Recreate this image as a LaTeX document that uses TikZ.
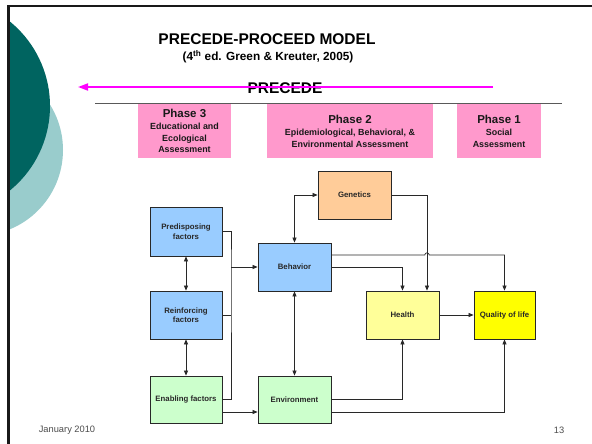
\documentclass[tikz,border=0pt]{standalone}
\usepackage{fontspec}
\setmainfont{Liberation Sans}
\usetikzlibrary{arrows.meta,calc}
\definecolor{tealdark}{RGB}{0,100,96}
\definecolor{teallight}{RGB}{153,204,204}
\definecolor{phasepink}{RGB}{255,153,204}
\definecolor{boxblue}{RGB}{153,204,255}
\definecolor{boxgreen}{RGB}{204,255,204}
\definecolor{boxpeach}{RGB}{255,204,153}
\definecolor{boxlemon}{RGB}{255,255,153}
\definecolor{boxyellow}{RGB}{255,255,0}
\definecolor{inkgray}{RGB}{40,40,40}
\definecolor{brightmagenta}{RGB}{255,0,255}
\tikzset{
  flowbox/.style={draw=inkgray, line width=0.8pt, align=center, inner sep=1pt,
    font=\bfseries\fontsize{7.8}{9.5}\selectfont, text=inkgray},
  phasebox/.style={fill=phasepink, align=center, inner sep=0pt, text=black!90,
    font=\bfseries\fontsize{8.9}{11.5}\selectfont},
  link/.style={draw=inkgray, line width=0.7pt},
  arr/.style={link, -{Triangle[length=5pt,width=4pt]}},
  darr/.style={link, {Triangle[length=5pt,width=4pt]}-{Triangle[length=5pt,width=4pt]}},
}
\begin{document}
\begin{tikzpicture}[x=1pt,y=-1pt]
\useasboundingbox (0,0) rectangle (592,444);
\fill[white] (0,0) rectangle (592,444);

% decorative discs on the left edge
\begin{scope}
  \clip (8,0) rectangle (592,444);
  \fill[teallight] (-22.7,150) circle (85.7);
  \fill[tealdark] (-59,106) circle (109);
\end{scope}
% slide frame
\draw[black!90, line width=2.6pt] (8.5,444) -- (8.5,6.2) -- (592,6.2);

% headings
\node (title) at (267,39) {\bfseries\fontsize{15.5}{18}\selectfont PRECEDE-PROCEED MODEL};
\node (subtitle) at (268,57) {\bfseries\fontsize{11.8}{13}\selectfont (4\textsuperscript{th} ed. Green \& Kreuter, 2005)};
\node (precede) at (285,88) {\bfseries\fontsize{15.5}{18}\selectfont PRECEDE};
\coordinate (magstart) at (493,87);
\coordinate (magend) at (78,87);
\draw[brightmagenta, line width=1.8pt, -{Triangle[length=10pt,width=7pt]}] (magstart) -- (magend);
\coordinate (rulel) at (95,103);
\coordinate (ruler) at (562,103);
\draw[black!65, line width=1pt] (rulel) -- (ruler);

% phases
\node[phasebox, minimum width=93pt, minimum height=54pt] (ph3) at (184.5,131)
  {{\fontsize{11.5}{12}\selectfont Phase 3}\\[1pt]Educational and\\Ecological\\Assessment};
\node[phasebox, minimum width=166pt, minimum height=54pt] (ph2) at (350,131)
  {{\fontsize{11.5}{12}\selectfont Phase 2}\\[1pt]Epidemiological, Behavioral, \&\\Environmental Assessment};
\node[phasebox, minimum width=84pt, minimum height=54pt] (ph1) at (499,131)
  {{\fontsize{11.5}{12}\selectfont Phase 1}\\[1pt]Social\\Assessment};

% model boxes
\node[flowbox, fill=boxpeach, minimum width=73pt, minimum height=48pt] (gen) at (354.5,195) {Genetics};
\node[flowbox, fill=boxblue, minimum width=72pt, minimum height=49pt] (pre) at (186,231.5) {Predisposing\\factors};
\node[flowbox, fill=boxblue, minimum width=73pt, minimum height=48pt] (beh) at (294.5,267) {Behavior};
\node[flowbox, fill=boxblue, minimum width=72pt, minimum height=48pt] (rei) at (186,315) {Reinforcing\\factors};
\node[flowbox, fill=boxlemon, minimum width=73pt, minimum height=48pt] (hea) at (402.5,315) {Health};
\node[flowbox, fill=boxyellow, minimum width=61pt, minimum height=48pt] (qol) at (504.5,315) {Quality of life};
\node[flowbox, fill=boxgreen, minimum width=72pt, minimum height=47pt] (ena) at (186,399.5) {Enabling factors};
\node[flowbox, fill=boxgreen, minimum width=73pt, minimum height=47pt] (env) at (294.5,399.5) {Environment};

% factor bus into behavior
\coordinate (bus) at (231,267);
\draw[link] (pre.east) -| (bus) |- (ena.east);
\draw[link] (rei.east) -- (rei.east -| bus);
\draw[arr] (bus) -- (beh.west);

% vertical links between factors
\draw[darr] (pre.south) -- (rei.north);
\draw[darr] (rei.south) -- (ena.north);
\draw[darr] (beh.south) -- (env.north);
\draw[darr] (beh.north) |- (gen.west);

% genetics to health
\coordinate (genline) at ($(hea.north)+(24.5,0)$);
\draw[arr] (gen.east) -| (genline);

% behavior to quality of life, hopping over the genetics line
\coordinate (bq) at ($(beh.east)+(0,-12)$);
\draw[arr] (bq) -- ($(bq -| genline)+(-2.2,0)$) arc[start angle=180, end angle=360, radius=2.2] -| (qol.north);
\draw[arr] (beh.east) -| (hea.north);
\draw[arr] (hea.east) -- (qol.west);

% environment links
\draw[arr] (env.east) -| (hea.south);
\coordinate (eq) at ($(env.east)+(0,12.5)$);
\draw[arr] (eq) -| (qol.south);
\coordinate (ee) at ($(ena.east)+(0,12.5)$);
\draw[arr] (ee) -- (ee -| env.west);

% footer
\node[text=black!70, font=\fontsize{9.3}{11}\selectfont] (date) at (67,430) {January 2010};
\node[text=black!70, font=\fontsize{9.3}{11}\selectfont] (page) at (559,430) {13};
\end{tikzpicture}
\end{document}
